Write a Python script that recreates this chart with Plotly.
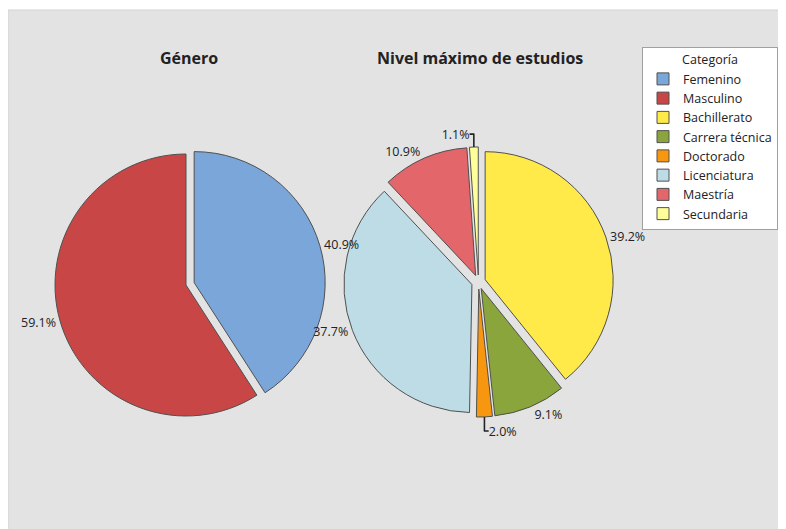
import plotly.graph_objects as go

W, H = 786, 529

genero_labels = ["Femenino", "Masculino"]
genero_values = [40.9, 59.1]
genero_colors = ["#7BA6DA", "#C84646"]
genero_pull = [0.065, 0.0]

estudios_labels = ["Bachillerato", "Carrera técnica", "Doctorado", "Licenciatura", "Maestría", "Secundaria"]
estudios_values = [39.2, 9.1, 2.0, 37.7, 10.9, 1.1]
estudios_colors = ["#FFEA4A", "#8AA53B", "#F7960F", "#BEDCE6", "#E3666A", "#FFFF99"]
estudios_pull = [0.055] * 6

FONT = "Open Sans"
TXT = "#222222"

def px_domain(cx, cy, half):
    return dict(x=[(cx - half) / W, (cx + half) / W],
                y=[1 - (cy + half) / H, 1 - (cy - half) / H])

dom1 = px_domain(178, 277, 131 * 1.065)
dom2 = px_domain(470.5, 274, 128 * 1.055)

fig = go.Figure()
# filled pies (no text)
for labels, values, colors, pull, dom in [
    (genero_labels, genero_values, genero_colors, genero_pull, dom1),
    (estudios_labels, estudios_values, estudios_colors, estudios_pull, dom2),
]:
    fig.add_trace(go.Pie(
        labels=labels, values=values, sort=False, direction="clockwise",
        rotation=0, pull=pull,
        marker=dict(colors=colors, line=dict(color="#505050", width=1)),
        textinfo="none", domain=dom, hoverinfo="skip",
    ))
# transparent overlay pies carrying the outside percentage labels (drawn on top)
for labels, values, pull, dom in [
    (genero_labels, genero_values, genero_pull, dom1),
    (estudios_labels, estudios_values, estudios_pull, dom2),
]:
    fig.add_trace(go.Pie(
        labels=labels, values=values, sort=False, direction="clockwise",
        rotation=0, pull=pull, showlegend=False,
        marker=dict(colors=["rgba(0,0,0,0)"] * len(values), line=dict(width=0)),
        textposition="outside", texttemplate="%{percent:.1%}",
        outsidetextfont=dict(family=FONT, size=12.5, color=TXT),
        domain=dom, hoverinfo="skip",
    ))

fig.update_layout(
    width=W, height=H,
    margin=dict(l=0, r=0, t=0, b=0, autoexpand=False),
    paper_bgcolor="white",
    font=dict(family=FONT, size=12, color=TXT),
    shapes=[dict(type="rect", xref="paper", yref="paper", x0=0, x1=1, y0=0, y1=1 - 2 / H,
                 fillcolor="#E3E3E3", line=dict(color="#D4D4D4", width=1), layer="below")],
    annotations=[
        dict(text="<b>Género</b>", x=181 / W, y=1 - 50 / H, xref="paper", yref="paper",
             xanchor="center", yanchor="middle",
             showarrow=False, font=dict(family=FONT, size=16, color=TXT)),
        dict(text="<b>Nivel máximo de estudios</b>", x=472 / W, y=1 - 50 / H, xref="paper", yref="paper",
             xanchor="center", yanchor="middle",
             showarrow=False, font=dict(family=FONT, size=16, color=TXT)),
    ],
    legend=dict(
        x=634 / W, y=1 - 39 / H, xanchor="left", yanchor="top",
        bgcolor="white", bordercolor="#A0A0A0", borderwidth=1,
        font=dict(family=FONT, size=12.5, color=TXT),
        title=dict(text="Categoría", side="top center", font=dict(family=FONT, size=12.5)),
        tracegroupgap=0, itemclick=False,
    ),
)

fig.write_html("out.html")
